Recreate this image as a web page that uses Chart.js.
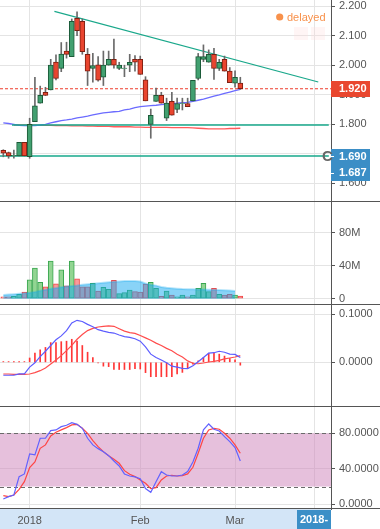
<!DOCTYPE html>
<html>
<head>
<meta charset="utf-8">
<script src="https://cdn.jsdelivr.net/npm/chart.js@4.4.1/dist/chart.umd.min.js"></script>
<style>
  html, body { margin:0; padding:0; background:#fff; }
  body { width:380px; height:529px; position:relative; overflow:hidden; }
  canvas { position:absolute; left:0; display:block; }
</style>
</head>
<body>
<canvas id="pricePane" width="380" height="202" style="top:0px"></canvas>
<canvas id="volPane" width="380" height="103" style="top:202px"></canvas>
<canvas id="macdPane" width="380" height="102" style="top:305px"></canvas>
<canvas id="stochPane" width="380" height="122" style="top:407px"></canvas>
<script>
// ---------------- data ----------------
const dates = ['2017-12-22','2017-12-26','2017-12-27','2017-12-28','2017-12-29',
  '2018-01-02','2018-01-03','2018-01-04','2018-01-05','2018-01-08','2018-01-09','2018-01-10','2018-01-11','2018-01-12',
  '2018-01-16','2018-01-17','2018-01-18','2018-01-19','2018-01-22','2018-01-23','2018-01-24','2018-01-25','2018-01-26',
  '2018-01-29','2018-01-30','2018-01-31',
  '2018-02-01','2018-02-02','2018-02-05','2018-02-06','2018-02-07','2018-02-08','2018-02-09','2018-02-12','2018-02-13',
  '2018-02-14','2018-02-15','2018-02-20','2018-02-21','2018-02-22','2018-02-23','2018-02-26','2018-02-27','2018-02-28',
  '2018-03-01','2018-03-02'];
const open  = [1.711,1.703,1.692,1.692,1.738,1.689,1.808,1.871,1.908,1.916,2.011,1.989,2.048,2.029,2.159,2.149,2.037,1.989,2.001,1.959,2.000,2.020,1.989,1.989,2.000,2.020,2.020,1.950,1.799,1.877,1.898,1.820,1.877,1.850,1.869,1.870,1.879,1.955,2.020,2.010,2.037,1.989,2.020,1.980,1.939,1.939];
const high  = [1.713,1.705,1.712,1.738,1.738,1.820,1.959,1.929,1.925,2.020,2.035,2.077,2.078,2.157,2.181,2.157,2.057,2.040,2.029,2.048,2.048,2.089,2.010,2.000,2.037,2.033,2.031,1.961,1.851,1.922,1.908,1.888,1.908,1.888,1.888,1.888,1.949,2.040,2.069,2.052,2.057,2.020,2.031,1.992,1.981,1.959];
const low   = [1.689,1.684,1.684,1.692,1.692,1.684,1.808,1.871,1.897,1.916,1.950,1.978,2.024,2.029,2.100,2.037,1.931,1.942,1.946,1.931,2.000,1.990,1.985,1.961,1.978,1.980,1.969,1.879,1.752,1.877,1.871,1.812,1.830,1.839,1.848,1.859,1.879,1.950,2.012,2.010,1.952,1.982,1.980,1.941,1.925,1.918];
const close = [1.701,1.692,1.694,1.738,1.692,1.799,1.862,1.898,1.897,2.000,1.955,2.038,2.037,2.149,2.117,2.046,1.980,1.999,1.949,2.000,2.020,2.000,2.000,1.990,2.010,2.010,1.969,1.879,1.830,1.898,1.871,1.871,1.830,1.870,1.870,1.859,1.949,2.029,2.029,2.037,1.989,2.010,1.980,1.941,1.959,1.920];
const maFast = [1.804,1.802,1.799,1.796,1.795,1.795,1.795,1.797,1.799,1.804,1.808,1.812,1.814,1.817,1.821,1.824,1.827,1.831,1.835,1.838,1.840,1.842,1.843,1.848,1.851,1.856,1.859,1.861,1.863,1.864,1.866,1.868,1.869,1.871,1.873,1.874,1.877,1.881,1.885,1.890,1.895,1.899,1.904,1.909,1.914,1.918];
const maSlow = [null,null,1.797,1.797,1.797,1.797,1.797,1.796,1.796,1.796,1.795,1.795,1.795,1.794,1.794,1.794,1.793,1.793,1.792,1.792,1.792,1.791,1.791,1.791,1.791,1.790,1.790,1.789,1.789,1.789,1.789,1.789,1.788,1.788,1.788,1.788,1.787,1.786,1.785,1.784,1.784,1.784,1.784,1.785,1.785,1.786];
const volume = [2.4,2.4,2.9,5.3,8.2,22.9,37.1,20,14.3,45.7,18,35.1,15.5,45.7,24.1,14.3,14.3,18.8,9.4,13.9,11.4,22.4,6.1,7.3,10.6,8.6,8.2,17.6,20,12.7,2.9,9.4,4.5,2.4,4.5,2.4,4.5,12.7,18.8,8.6,12.7,5.3,4.5,5.3,4.5,3.3];
const volumeMA = [4.5,5.0,5.5,6.0,6.5,7.3,8.3,9.8,11.0,12.0,13.0,13.8,14.7,15.4,16.0,16.8,17.4,18.1,18.8,19.4,20.0,20.6,21.0,21.4,21.6,21.4,20.8,18.5,17.0,15.9,14.2,13.3,12.7,12.2,11.8,11.6,11.4,11.3,11.2,11.0,10.8,10.6,10.3,10.0,9.4];
const macdLine = [-0.027,-0.027,-0.027,-0.024,-0.024,-0.010,-0.001,0.012,0.023,0.035,0.047,0.055,0.066,0.082,0.0875,0.085,0.079,0.074,0.068,0.065,0.0625,0.061,0.057,0.0535,0.052,0.049,0.044,0.032,0.017,0.010,0.005,-0.001,-0.008,-0.010,-0.0125,-0.013,-0.007,0.001,0.010,0.019,0.020,0.023,0.021,0.017,0.0165,0.010];
const signalLine = [-0.0243,-0.0243,-0.025,-0.025,-0.025,-0.0243,-0.0215,-0.0174,-0.0118,-0.0035,0.0049,0.0139,0.0243,0.0354,0.048,0.058,0.066,0.0708,0.0736,0.075,0.0757,0.075,0.070,0.065,0.0618,0.0604,0.056,0.051,0.046,0.040,0.035,0.029,0.024,0.017,0.011,0.003,-0.002,-0.003,-0.0014,0.0007,0.002,0.004,0.007,0.009,0.011,0.014];
const macdHist = [0.0015,0.0015,0.0015,0.0015,0.0015,0.009,0.019,0.026,0.031,0.041,0.041,0.043,0.044,0.048,0.044,0.035,0.021,0.010,-0.001,-0.008,-0.009,-0.015,-0.015,-0.015,-0.015,-0.013,-0.014,-0.0215,-0.030,-0.030,-0.030,-0.030,-0.030,-0.024,-0.021,-0.0125,-0.004,0.003,0.010,0.019,0.019,0.017,0.013,0.008,0.005,-0.006];
const stochK = [6.0,8.6,10.5,31.2,34.2,56.7,55.6,74.4,74.4,83,83.8,87.5,89,92,90.1,85.6,74.4,66.9,62.7,59.3,54.8,48.8,43.2,34.2,31.9,30.8,28.9,17.7,13.5,25.5,36.8,33,31.9,31.9,33,36.8,47.7,63.1,83.8,90.5,84.5,82.6,76.2,70.6,63.9,48.8];
const stochD = [9.8,8.6,10.5,16.9,25.5,41.3,47.7,63.1,66.9,77,81.1,83.8,86.4,89.4,90.1,85.6,80,71.7,65,59.3,54.8,50.7,46.2,37.9,33.8,31.2,27.4,23.7,17.7,18.8,27.4,31.9,32.7,31.9,32.3,34.2,41.7,57.5,74.4,83.8,85.6,84.5,80,74.4,66.9,57.5];

const xTickIndex  = [5, 26, 44, 59];
const xTickLabels = ['2018', 'Feb', 'Mar', ''];
const priceTicks  = [1.6, 1.7, 1.8, 1.9, 2.0, 2.1, 2.2];
const volumeTicks = [0, 40, 80];
const macdTicks   = [0, 0.1];
const stochTicks  = [0, 40, 80];
const stochBand   = [20, 80];
const trendLine   = [{x: 9.7, y: 2.183}, {x: 59.8, y: 1.943}];
const levelValues = [1.797, 1.692];
const levelStart  = [1.65, -0.63];
const levelEnd    = [61.8, 61.8];
const markedPrices = [1.690, 1.687];
const cursorLabel = '2018-';
const statusLabel = 'delayed';

// ---------------- helpers ----------------
const FONT = "'Liberation Sans', Arial, sans-serif";
Chart.defaults.font.family = FONT;
Chart.defaults.font.size = 11;
Chart.defaults.color = '#555';

const X_MIN = -0.63, X_MAX = 62.22;
const idx = dates.map((_, i) => i);
const pts = arr => arr.map((v, i) => ({x: i, y: v}));
const up = i => close[i] >= open[i];

function noPad(s) { s.paddingTop = 0; s.paddingBottom = 0; s.paddingLeft = 0; s.paddingRight = 0; }

function xAxis(withLabels) {
  return {
    type: 'linear', min: X_MIN, max: X_MAX, offset: false,
    afterBuildTicks: s => { s.ticks = xTickIndex.map(v => ({value: v})); },
    afterFit: s => { s.height = withLabels ? 20 : 0; noPad(s); },
    ticks: { display: withLabels, autoSkip: false, maxRotation: 0, minRotation: 0, padding: 5, color: '#555',
             font: {size: 11}, callback: (v, i) => xTickLabels[i] },
    grid: { color: '#e4e4e4', drawTicks: false, offset: false },
    border: { display: false }
  };
}
function yAxis(min, max, ticks, fmt) {
  return {
    type: 'linear', position: 'right', min, max,
    afterBuildTicks: s => { s.ticks = ticks.map(v => ({value: v})); },
    afterFit: s => { s.width = 49; noPad(s); },
    ticks: { color: '#555', font: {size: 11}, padding: 4, callback: fmt },
    grid: { color: '#e4e4e4', tickColor: '#555', tickLength: 4, drawTicks: true },
    border: { display: true, color: '#555' }
  };
}
const paneBorder = {
  id: 'paneBorder',
  afterDraw(chart) {
    const {ctx, chartArea: a} = chart;
    ctx.save();
    ctx.fillStyle = '#555';
    ctx.fillRect(0, Math.round(a.bottom) - 1, 380, 1);
    ctx.restore();
  }
};
function baseOptions() {
  return {
    responsive: false, animation: false, devicePixelRatio: 1, events: [],
    layout: { padding: 0 },
    plugins: { legend: { display: false }, tooltip: { enabled: false } }
  };
}

// ---------------- price pane ----------------
const priceOverlay = {
  id: 'priceOverlay',
  afterDraw(chart) {
    const {ctx, chartArea: a, scales: {y}} = chart;
    ctx.save();
    const last = close[close.length - 1];
    const py = y.getPixelForValue(last);
    ctx.fillStyle = '#e9472f';
    ctx.fillRect(a.right, Math.round(py) - 8, 39, 16);
    ctx.fillStyle = '#fff';
    ctx.font = 'bold 11px ' + FONT;
    ctx.textBaseline = 'middle';
    ctx.textAlign = 'left';
    ctx.fillText(last.toFixed(3), a.right + 8, py + 0.5);

    const my = y.getPixelForValue(markedPrices[0]);
    ctx.fillStyle = '#3b8ec6';
    ctx.fillRect(a.right, Math.round(my) - 7, 39, 32);
    ctx.fillStyle = '#fff';
    markedPrices.forEach((p, k) => {
      const ty = my + k * 16.2;
      ctx.fillRect(a.right, Math.round(ty), 3, 1);
      ctx.fillText(p.toFixed(3), a.right + 8, ty + 0.5);
    });
    ctx.fillStyle = '#666';
    ctx.font = 'bold 15px ' + FONT;
    ctx.fillText('C', a.right - 9, my);

    ctx.fillStyle = 'rgba(255,215,215,0.25)';
    ctx.fillRect(294, 27, 14, 13);
    ctx.fillRect(311, 27, 14, 13);
    ctx.fillStyle = '#f8914b';
    ctx.beginPath(); ctx.arc(279.7, 17, 3.6, 0, Math.PI * 2); ctx.fill();
    ctx.font = '11px ' + FONT;
    ctx.fillText(statusLabel, 287, 17.5);
    ctx.restore();
  }
};

const priceDatasets = [
  { type: 'bar', data: idx.map(i => ({x: i, y: [open[i], close[i]]})),
    backgroundColor: idx.map(i => up(i) ? '#42a070' : '#e9452f'),
    borderColor: idx.map(i => up(i) ? '#1b5a38' : '#7d1f12'),
    borderWidth: 1, borderSkipped: false, barThickness: 5, grouped: false, order: 1 },
  { type: 'bar', data: idx.map(i => ({x: i, y: [low[i], high[i]]})),
    backgroundColor: '#6a6a6a', barThickness: 1, grouped: false, order: 2 },
  { type: 'line', data: [{x: X_MIN, y: close[close.length - 1]}, {x: X_MAX, y: close[close.length - 1]}],
    borderColor: '#ee3b2b', borderDash: [3, 2], borderWidth: 1, pointRadius: 0, order: 3 },
  { type: 'line', data: trendLine, borderColor: '#1aa88b', borderWidth: 1.2, pointRadius: 0, order: 4 }
];
levelValues.forEach((v, k) => priceDatasets.push({
  type: 'line', data: [{x: levelStart[k], y: v}, {x: levelEnd[k], y: v}],
  borderColor: '#17a98b', borderWidth: 1.5, pointRadius: 0, order: 5
}));
priceDatasets.push(
  { type: 'line', data: pts(maFast), borderColor: '#6b6bff', borderWidth: 1.3, pointRadius: 0, order: 6 },
  { type: 'line', data: pts(maSlow), borderColor: '#ff5a5a', borderWidth: 1.3, pointRadius: 0, order: 7 }
);

new Chart(document.getElementById('pricePane'), {
  type: 'bar',
  data: { datasets: priceDatasets },
  options: Object.assign(baseOptions(), {
    scales: { x: xAxis(false), y: yAxis(1.5355, 2.2214, priceTicks, v => v.toFixed(3)) }
  }),
  plugins: [paneBorder, priceOverlay]
});

// ---------------- volume pane ----------------
new Chart(document.getElementById('volPane'), {
  type: 'bar',
  data: { datasets: [
    { type: 'line', data: pts(volumeMA), fill: 'origin', backgroundColor: 'rgba(20,168,240,0.5)',
      borderColor: 'rgba(20,168,240,0.3)', borderWidth: 2, pointRadius: 0, order: 1 },
    { type: 'bar', data: pts(volume),
      backgroundColor: idx.map(i => up(i) ? '#92d592' : '#fb9a9a'),
      borderColor: idx.map(i => up(i) ? '#39a64f' : '#f04848'),
      borderWidth: 1, borderSkipped: false, barThickness: 5, grouped: false, order: 2 }
  ]},
  options: Object.assign(baseOptions(), {
    scales: { x: xAxis(false), y: yAxis(-7.6, 117.2, volumeTicks, v => v === 0 ? '0' : v + 'M') }
  }),
  plugins: [paneBorder]
});

// ---------------- MACD pane ----------------
new Chart(document.getElementById('macdPane'), {
  type: 'bar',
  data: { datasets: [
    { type: 'line', data: pts(macdLine), borderColor: '#5d5dff', borderWidth: 1.2, pointRadius: 0, order: 1 },
    { type: 'line', data: pts(signalLine), borderColor: '#ff4d4d', borderWidth: 1.2, pointRadius: 0, order: 2 },
    { type: 'bar', data: pts(macdHist), backgroundColor: '#ff3636', barThickness: 1, grouped: false, order: 3 }
  ]},
  options: Object.assign(baseOptions(), {
    scales: { x: xAxis(false), y: yAxis(-0.0931, 0.1194, macdTicks, v => v.toFixed(4)) }
  }),
  plugins: [paneBorder]
});

// ---------------- Stochastic pane ----------------
const stochBandPlugin = {
  id: 'stochBand',
  beforeDatasetsDraw(chart) {
    const {ctx, chartArea: a, scales: {y}} = chart;
    const top = y.getPixelForValue(stochBand[1]), bot = y.getPixelForValue(stochBand[0]);
    ctx.save();
    ctx.fillStyle = 'rgba(205,130,185,0.5)';
    ctx.fillRect(a.left, top, a.right - a.left, bot - top);
    ctx.strokeStyle = '#6a6a6a';
    ctx.setLineDash([4, 3]);
    ctx.lineWidth = 1;
    [top, bot].forEach(py => {
      ctx.beginPath();
      ctx.moveTo(a.left, Math.round(py) + 0.5);
      ctx.lineTo(a.right, Math.round(py) + 0.5);
      ctx.stroke();
    });
    ctx.restore();
  }
};
const axisStrip = {
  id: 'axisStrip',
  beforeDraw(chart) {
    const {ctx, chartArea: a} = chart;
    ctx.save();
    ctx.fillStyle = '#d3e5f7';
    ctx.fillRect(0, a.bottom, a.right, 20);
    ctx.restore();
  },
  afterDraw(chart) {
    const {ctx, chartArea: a} = chart;
    ctx.save();
    ctx.fillStyle = '#3b8fc7';
    ctx.fillRect(297, a.bottom + 1, a.right - 297, 20);
    ctx.fillStyle = '#fff';
    ctx.font = 'bold 11px ' + FONT;
    ctx.textBaseline = 'middle';
    ctx.textAlign = 'left';
    ctx.fillText(cursorLabel, 300, a.bottom + 11);
    ctx.restore();
  }
};
new Chart(document.getElementById('stochPane'), {
  type: 'line',
  data: { datasets: [
    { data: pts(stochK), borderColor: '#6262ff', borderWidth: 1.2, pointRadius: 0 },
    { data: pts(stochD), borderColor: '#ff4545', borderWidth: 1.2, pointRadius: 0 }
  ]},
  options: Object.assign(baseOptions(), {
    scales: { x: xAxis(true), y: yAxis(-5.3, 109.6, stochTicks, v => v.toFixed(4)) }
  }),
  plugins: [axisStrip, stochBandPlugin, paneBorder]
});
</script>
</body>
</html>
